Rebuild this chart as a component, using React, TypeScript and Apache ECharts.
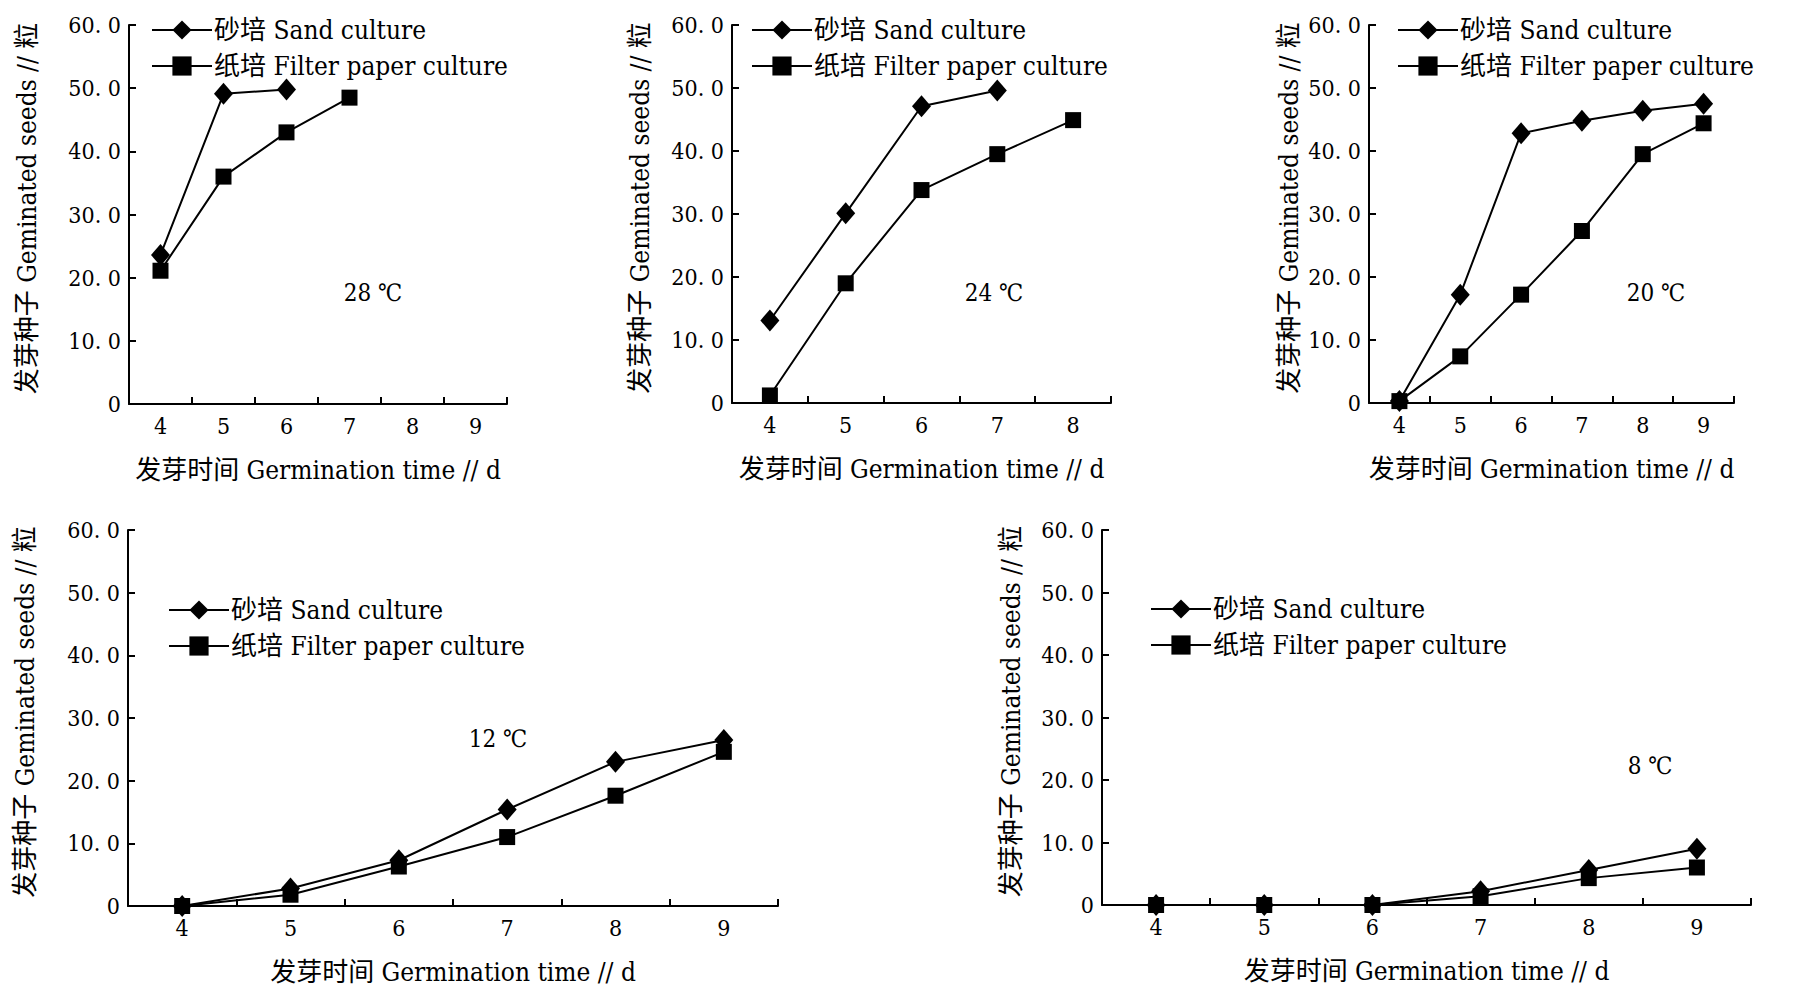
import React, { useEffect, useRef } from "react";
import * as echarts from "echarts";

const SAND = "砂培 Sand culture";
const PAPER = "纸培 Filter paper culture";

const daysA = ["4", "5", "6", "7", "8", "9"];
const daysB = ["4", "5", "6", "7", "8"];

const sand28 = [23.6, 49.1, 49.8, null, null, null];
const paper28 = [21.1, 36.0, 43.0, 48.5, null, null];
const sand24 = [13.1, 30.1, 47.1, 49.6, null];
const paper24 = [1.2, 19.0, 33.8, 39.5, 44.9];
const sand20 = [0.3, 17.2, 42.8, 44.8, 46.4, 47.5];
const paper20 = [0.3, 7.4, 17.2, 27.3, 39.5, 44.4];
const sand12 = [0, 2.8, 7.3, 15.4, 23.0, 26.5];
const paper12 = [0, 1.8, 6.3, 11.0, 17.6, 24.6];
const sand8 = [0, 0, 0, 2.2, 5.6, 9.0];
const paper8 = [0, 0, 0, 1.4, 4.3, 6.0];

const temps = ["28 ℃", "24 ℃", "20 ℃", "12 ℃", "8 ℃"];
const yName = "发芽种子 Geminated seeds // 粒";
const xName = "发芽时间 Germination time // d";

const FONT = "'DejaVu Serif Condensed', 'Liberation Serif', 'Noto Sans CJK SC', serif";

const panels = [
  { cats: daysA, sand: sand28, paper: paper28, left: 129, top: 25, width: 378, height: 379, yGap: 89, lgLeft: 146, lgTop: 12, nx: 373, ny: 293 },
  { cats: daysB, sand: sand24, paper: paper24, left: 732, top: 25, width: 379, height: 378, yGap: 79, lgLeft: 746, lgTop: 12, nx: 994, ny: 293 },
  { cats: daysA, sand: sand20, paper: paper20, left: 1369, top: 25, width: 365, height: 378, yGap: 67, lgLeft: 1392, lgTop: 12, nx: 1656, ny: 293 },
  { cats: daysA, sand: sand12, paper: paper12, left: 128, top: 530, width: 650, height: 376, yGap: 90, lgLeft: 163, lgTop: 592, nx: 498, ny: 739 },
  { cats: daysA, sand: sand8, paper: paper8, left: 1102, top: 530, width: 649, height: 375, yGap: 78, lgLeft: 1145, lgTop: 591, nx: 1650, ny: 766 },
];

export default function App() {
  const ref = useRef<HTMLDivElement>(null);
  useEffect(() => {
    if (!ref.current) return;
    const chart = echarts.init(ref.current, undefined, { renderer: "svg" });
    const grid: any[] = [];
    const xAxis: any[] = [];
    const yAxis: any[] = [];
    const series: any[] = [];
    const legend: any[] = [];
    const graphic: any[] = [];
    panels.forEach((p, i) => {
      grid.push({ left: p.left, top: p.top, width: p.width, height: p.height, containLabel: false });
      xAxis.push({
        type: "category",
        gridIndex: i,
        data: p.cats,
        boundaryGap: true,
        name: xName,
        nameLocation: "middle",
        nameGap: 53,
        nameTextStyle: { fontFamily: FONT, fontSize: 26, color: "#000" },
        axisLine: { lineStyle: { color: "#000", width: 2 } },
        axisTick: { show: true, inside: true, length: 7, lineStyle: { color: "#000", width: 2 } },
        axisLabel: { fontFamily: FONT, fontSize: 23, color: "#000", margin: 10 },
        splitLine: { show: false },
      });
      yAxis.push({
        type: "value",
        gridIndex: i,
        min: 0,
        max: 60,
        interval: 10,
        name: yName,
        nameLocation: "middle",
        nameGap: p.yGap,
        nameTextStyle: { fontFamily: FONT, fontSize: 26, color: "#000", padding: [0, 0, 0, 12] },
        axisLine: { show: true, lineStyle: { color: "#000", width: 2 } },
        axisTick: { show: true, inside: true, length: 7, lineStyle: { color: "#000", width: 2 } },
        axisLabel: {
          fontFamily: FONT,
          fontSize: 23,
          color: "#000",
          margin: 8,
          formatter: (v: number) => (v === 0 ? "0" : v.toFixed(1).replace(".", ". ")),
        },
        splitLine: { show: false },
      });
      series.push({
        type: "line",
        name: SAND,
        xAxisIndex: i,
        yAxisIndex: i,
        data: p.sand,
        symbol: "diamond",
        symbolSize: [19, 22],
        lineStyle: { color: "#000", width: 2 },
        itemStyle: { color: "#000" },
        z: 3,
      });
      series.push({
        type: "line",
        name: PAPER,
        xAxisIndex: i,
        yAxisIndex: i,
        data: p.paper,
        symbol: "rect",
        symbolSize: 16,
        lineStyle: { color: "#000", width: 2 },
        itemStyle: { color: "#000" },
        z: 3,
      });
      legend.push({
        orient: "vertical",
        left: p.lgLeft,
        top: p.lgTop,
        itemWidth: 60,
        itemHeight: 24,
        itemGap: 10,
        selectedMode: false,
        data: [SAND, PAPER],
        textStyle: { fontFamily: FONT, fontSize: 26, lineHeight: 26, color: "#000", padding: [0, 0, 0, -3] },
      });
      graphic.push({
        type: "text",
        x: p.nx,
        y: p.ny,
        style: {
          text: temps[i],
          font: `24px ${FONT}`,
          fill: "#000",
          textAlign: "center",
          textVerticalAlign: "middle",
        },
      });
    });
    chart.setOption({
      animation: false,
      backgroundColor: "#fff",
      grid,
      xAxis,
      yAxis,
      series,
      legend,
      graphic,
    });
    return () => chart.dispose();
  }, []);
  return (
    <div
      ref={ref}
      style={{ position: "fixed", left: 0, top: 0, width: 1801, height: 989, background: "#fff" }}
    />
  );
}
